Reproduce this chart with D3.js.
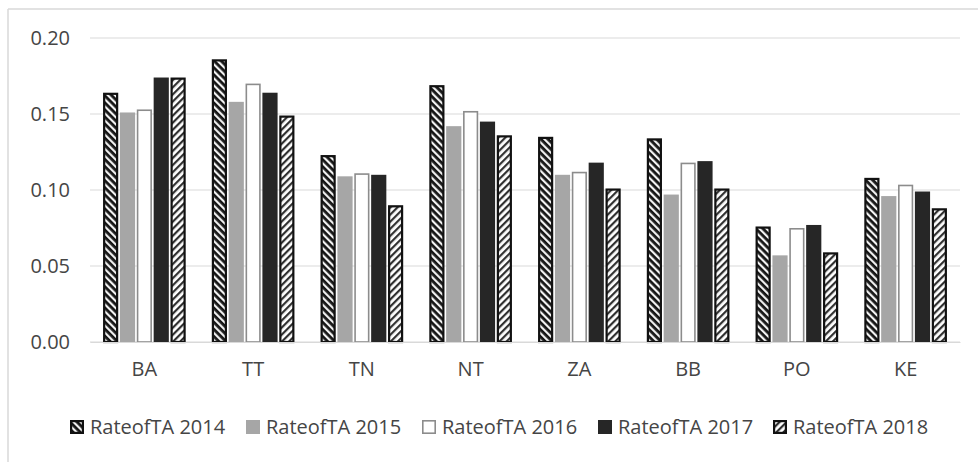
<!DOCTYPE html>
<html><head><meta charset="utf-8">
<script src="https://cdn.jsdelivr.net/npm/d3@7"></script>
<style>body{margin:0;background:#fff}svg{display:block}text{font-family:"Open Sans",Calibri,sans-serif;fill:#454545}</style>
</head><body><svg id="c" width="978" height="462"></svg>
<script>
const categories = ["BA","TT","TN","NT","ZA","BB","PO","KE"];
const seriesNames = ["RateofTA 2014","RateofTA 2015","RateofTA 2016","RateofTA 2017","RateofTA 2018"];
const v2014 = [0.164,0.186,0.123,0.169,0.135,0.134,0.076,0.108];
const v2015 = [0.151,0.158,0.109,0.142,0.110,0.097,0.057,0.096];
const v2016 = [0.153,0.170,0.111,0.152,0.112,0.118,0.075,0.1035];
const v2017 = [0.174,0.164,0.110,0.145,0.118,0.119,0.077,0.099];
const v2018 = [0.174,0.149,0.090,0.136,0.101,0.101,0.059,0.088];
const yTicks = [0,0.05,0.10,0.15,0.20];
const series = [v2014,v2015,v2016,v2017,v2018];

const svg = d3.select("#c");
const defs = svg.append("defs");
const p1 = defs.append("pattern").attr("id","p2014").attr("width",5).attr("height",5)
  .attr("patternUnits","userSpaceOnUse").attr("patternTransform","rotate(-45)");
p1.append("rect").attr("width",5).attr("height",5).attr("fill","#151515");
p1.append("rect").attr("width",2.2).attr("height",5).attr("fill","#f2f2f2");
const p2 = defs.append("pattern").attr("id","p2018").attr("width",5).attr("height",5)
  .attr("patternUnits","userSpaceOnUse").attr("patternTransform","rotate(45)");
p2.append("rect").attr("width",5).attr("height",5).attr("fill","#ffffff");
p2.append("rect").attr("width",2.2).attr("height",5).attr("fill","#303030");

const styles = [
  {fill:"url(#p2014)", stroke:"#111", sw:2.2},
  {fill:"#a6a6a6", stroke:"none", sw:0},
  {fill:"#ffffff", stroke:"#8c8c8c", sw:1.6},
  {fill:"#262626", stroke:"none", sw:0},
  {fill:"url(#p2018)", stroke:"#111", sw:2.2}
];

svg.append("line").attr("x1",8).attr("x2",978).attr("y1",9).attr("y2",9).attr("stroke","#d9d9d9").attr("stroke-width",1.5);
svg.append("line").attr("x1",8).attr("x2",8).attr("y1",9).attr("y2",462).attr("stroke","#d9d9d9").attr("stroke-width",1.5);

const pLeft = 90, pRight = 960, pTop = 38, pBottom = 342;
const y = d3.scaleLinear().domain([0,0.20]).range([pBottom, pTop]);
const x0 = d3.scaleBand().domain(categories).range([pLeft,pRight]).paddingInner(0.24).paddingOuter(0.12);
const x1 = d3.scaleBand().domain(d3.range(5)).range([0,x0.bandwidth()]).paddingInner(0.1);

svg.append("g").selectAll("line").data(yTicks).join("line")
  .attr("x1",pLeft).attr("x2",pRight).attr("y1",d=>y(d)).attr("y2",d=>y(d))
  .attr("stroke","#d9d9d9").attr("stroke-width",1.2);

const FS = "20px";
const yAxis = d3.axisLeft(y).tickValues(yTicks).tickFormat(d3.format(".2f")).tickSize(0).tickPadding(20);
const ga = svg.append("g").attr("transform",`translate(${pLeft},0)`).call(yAxis);
ga.select(".domain").remove();
ga.selectAll("text").style("font-size",FS).attr("fill","#454545").style("font-family","'Open Sans',sans-serif");

categories.forEach((c,i)=>{
  const g = svg.append("g").attr("transform",`translate(${x0(c)},0)`);
  series.forEach((s,k)=>{
    const st = styles[k];
    const inset = st.sw/2;
    g.append("rect")
      .attr("x",x1(k)+inset).attr("width",x1.bandwidth()-st.sw)
      .attr("y",y(s[i])+inset).attr("height",y(0)-y(s[i])-inset)
      .attr("fill",st.fill).attr("stroke",st.stroke).attr("stroke-width",st.sw);
  });
});

const xAxis = d3.axisBottom(x0).tickSize(0).tickPadding(20);
const gx = svg.append("g").attr("transform",`translate(0,${pBottom})`).call(xAxis);
gx.select(".domain").attr("stroke","#d9d9d9").attr("stroke-width",1.2);
gx.selectAll("text").style("font-size",FS).attr("fill","#454545").style("font-family","'Open Sans',sans-serif");

const legX = [70,246,422,598,773];
const leg = svg.append("g");
seriesNames.forEach((n,k)=>{
  const st = styles[k];
  const g = leg.append("g").attr("transform",`translate(${legX[k]},420)`);
  g.append("rect").attr("x",st.sw/2).attr("y",st.sw/2).attr("width",14-st.sw).attr("height",14-st.sw)
    .attr("fill",st.fill).attr("stroke",st.stroke).attr("stroke-width",st.sw);
  g.append("text").attr("x",20).attr("y",7).attr("dy","0.35em").text(n).style("font-size",FS);
});
</script></body></html>
